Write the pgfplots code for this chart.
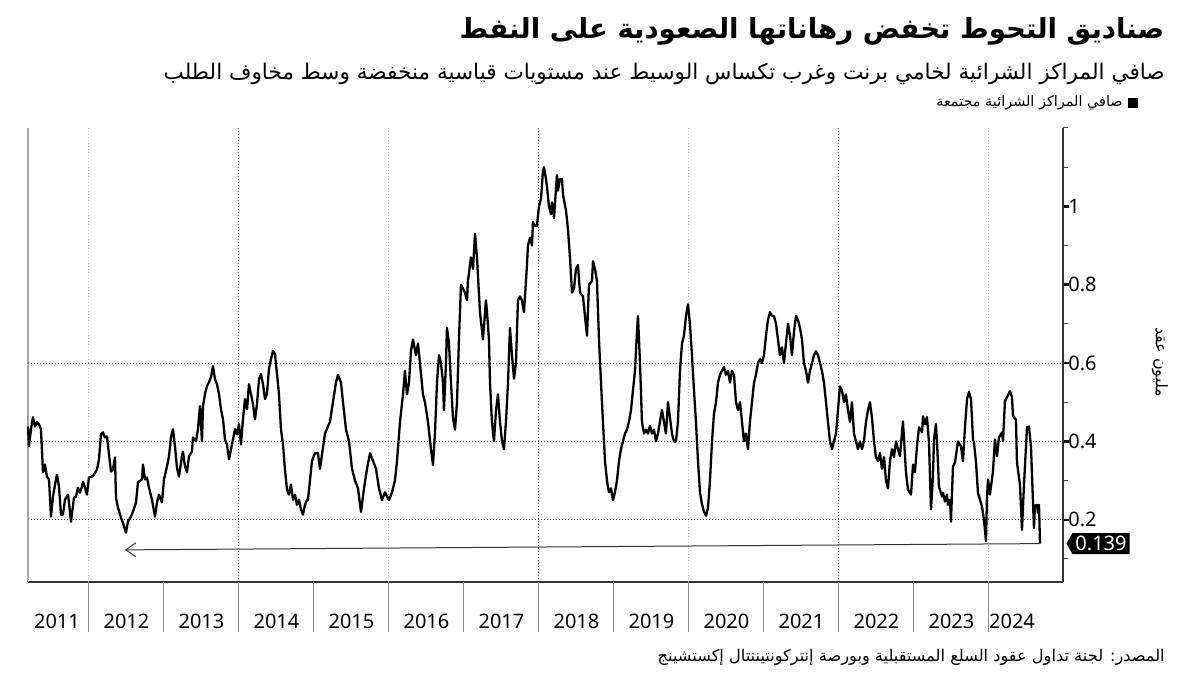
\documentclass[border=0pt]{standalone}
\usepackage{fontspec}
\usepackage{pgfplots}
\pgfplotsset{compat=1.18}
\usetikzlibrary{arrows.meta,shapes.symbols}
\setmainfont{Noto Sans}
\newfontfamily\arabicfont[Script=Arabic]{DejaVu Sans}
\TeXXeTstate=1

\begin{document}
\begin{tikzpicture}[x=1pt,y=1pt]
\useasboundingbox (0,0) rectangle (600,337.5);

% titles
\node[anchor=east, inner sep=0pt] at (582.5,322)
  {\arabicfont\bfseries\fontsize{13.8}{16}\selectfont\beginR صناديق التحوط تخفض رهاناتها الصعودية على النفط\endR};
\node[anchor=east, inner sep=0pt] at (582.5,300.5)
  {\arabicfont\fontsize{10.8}{13}\selectfont\beginR صافي المراكز الشرائية لخامي برنت وغرب تكساس الوسيط عند مستويات قياسية منخفضة وسط مخاوف الطلب\endR};
% legend
\fill[black] (564,283.5) rectangle (569,288.5);
\node[anchor=east, inner sep=0pt] at (561.5,286)
  {\arabicfont\fontsize{7.2}{9}\selectfont\beginR صافي المراكز الشرائية مجتمعة\endR};
% unit label
\node[rotate=-90, inner sep=0pt] at (580,156.5)
  {\arabicfont\fontsize{8}{10}\selectfont\beginR مليون عقد\endR};
% source
\node[anchor=east, inner sep=0pt] at (582.5,9)
  {\arabicfont\fontsize{8.1}{10}\selectfont\beginR المصدر: لجنة تداول عقود السلع المستقبلية وبورصة إنتركونتيننتال إكستشينج\endR};

\begin{axis}[
  at={(14pt,46.5pt)}, anchor=south west,
  scale only axis, width=517.5pt, height=227pt,
  xmin=2011.187, xmax=2024.987, ymin=0.041, ymax=1.2,
  clip=false,
  axis x line*=bottom, axis y line*=right,
  axis line style={black!80, line width=0.6pt},
  tick align=outside,
  major tick length=3pt, minor tick length=2.5pt,
  xtick={2011.573,2012.5,2013.5,2014.5,2015.5,2016.5,2017.5,2018.5,2019.5,2020.5,2021.5,2022.5,2023.5,2024.307},
  xticklabels={2011,2012,2013,2014,2015,2016,2017,2018,2019,2020,2021,2022,2023,2024},
  xtick style={draw=none},
  xticklabel style={font=\fontsize{10}{12}\selectfont, yshift=-9.5pt},
  ytick={0.2,0.4,0.6,0.8,1},
  minor ytick={0.1,0.3,0.5,0.7,0.9,1.1,1.2},
  ytick style={black, line width=1.2pt},
  minor y tick style={black!70, line width=0.5pt},
  yticklabel style={font=\fontsize{10}{12}\selectfont, inner xsep=0.5pt, xshift=-1pt,
    /pgf/number format/assume math mode=true},
]
% grid
\pgfplotsinvokeforeach{2012,2016,2020,2024}{
  \draw[black!25, densely dotted, line width=0.5pt] (axis cs:#1,0.041) -- (axis cs:#1,1.2);
}
\pgfplotsinvokeforeach{2014,2018,2022}{
  \draw[black!75, densely dotted, line width=0.5pt] (axis cs:#1,0.041) -- (axis cs:#1,1.2);
}
\pgfplotsinvokeforeach{0.2,0.4,0.6}{
  \draw[black!75, densely dotted, line width=0.5pt] (axis cs:2011.187,#1) -- (axis cs:2024.987,#1);
}
% year separators below the axis
\pgfplotsinvokeforeach{2012,...,2024}{
  \draw[black!45, line width=0.5pt] (axis cs:#1,0.041) -- ++(0pt,-25pt);
}
\draw[black!35, line width=1pt] (rel axis cs:0,0) -- (rel axis cs:0,1);

% net long positions, million contracts
\addplot[black, line width=1.15pt, line join=round] coordinates {
(2011.187,0.438) (2011.200,0.387) (2011.227,0.431) (2011.253,0.462) (2011.280,0.438) (2011.307,0.449)
(2011.333,0.444) (2011.360,0.431) (2011.387,0.321) (2011.413,0.341) (2011.440,0.310) (2011.467,0.303)
(2011.493,0.208) (2011.520,0.259) (2011.560,0.303) (2011.573,0.315) (2011.600,0.285) (2011.627,0.213)
(2011.653,0.213) (2011.680,0.251) (2011.720,0.264) (2011.733,0.244) (2011.760,0.195) (2011.800,0.256)
(2011.827,0.259) (2011.853,0.282) (2011.880,0.269) (2011.907,0.285) (2011.920,0.297) (2011.947,0.282)
(2011.973,0.264) (2012.000,0.308) (2012.040,0.310) (2012.067,0.315) (2012.107,0.328) (2012.133,0.354)
(2012.160,0.418) (2012.187,0.423) (2012.213,0.410) (2012.240,0.413) (2012.267,0.367) (2012.293,0.323)
(2012.320,0.328) (2012.347,0.359) (2012.360,0.256) (2012.387,0.231) (2012.427,0.205) (2012.453,0.192)
(2012.493,0.167) (2012.520,0.195) (2012.560,0.208) (2012.587,0.221) (2012.627,0.244) (2012.653,0.295)
(2012.707,0.303) (2012.720,0.341) (2012.747,0.303) (2012.773,0.308) (2012.800,0.282) (2012.840,0.251)
(2012.880,0.208) (2012.907,0.244) (2012.933,0.264) (2012.973,0.244) (2013.000,0.303) (2013.040,0.336)
(2013.067,0.362) (2013.093,0.410) (2013.120,0.431) (2013.147,0.387) (2013.173,0.333) (2013.200,0.310)
(2013.240,0.362) (2013.253,0.374) (2013.280,0.336) (2013.307,0.321) (2013.333,0.362) (2013.373,0.374)
(2013.387,0.410) (2013.427,0.400) (2013.453,0.431) (2013.480,0.490) (2013.507,0.400) (2013.520,0.490)
(2013.547,0.521) (2013.573,0.541) (2013.600,0.551) (2013.627,0.564) (2013.653,0.592) (2013.680,0.559)
(2013.707,0.546) (2013.733,0.521) (2013.760,0.482) (2013.787,0.456) (2013.813,0.405) (2013.840,0.392)
(2013.867,0.354) (2013.893,0.379) (2013.920,0.405) (2013.947,0.431) (2013.973,0.418) (2014.000,0.444)
(2014.027,0.392) (2014.053,0.456) (2014.080,0.508) (2014.107,0.482) (2014.133,0.546) (2014.160,0.521)
(2014.187,0.495) (2014.213,0.456) (2014.240,0.495) (2014.267,0.559) (2014.293,0.572) (2014.320,0.546)
(2014.347,0.508) (2014.373,0.521) (2014.400,0.585) (2014.427,0.610) (2014.453,0.631) (2014.480,0.623)
(2014.507,0.572) (2014.533,0.521) (2014.560,0.431) (2014.587,0.392) (2014.613,0.328) (2014.640,0.277)
(2014.667,0.264) (2014.693,0.290) (2014.720,0.251) (2014.747,0.264) (2014.773,0.238) (2014.800,0.251)
(2014.827,0.226) (2014.853,0.213) (2014.880,0.238) (2014.907,0.251)
(2014.920,0.25) (2014.973,0.35) (2015.013,0.37) (2015.053,0.37) (2015.080,0.33) (2015.147,0.42)
(2015.213,0.45) (2015.253,0.50) (2015.293,0.55) (2015.320,0.57) (2015.360,0.55) (2015.387,0.50)
(2015.427,0.43) (2015.467,0.40) (2015.507,0.33) (2015.547,0.30) (2015.587,0.28) (2015.627,0.22)
(2015.667,0.28) (2015.707,0.33) (2015.747,0.37) (2015.787,0.35) (2015.827,0.33) (2015.867,0.28)
(2015.907,0.25) (2015.947,0.27) (2016.000,0.25) (2016.040,0.27) (2016.080,0.30) (2016.107,0.35)
(2016.147,0.45) (2016.187,0.52) (2016.213,0.58) (2016.240,0.52) (2016.267,0.55) (2016.293,0.63)
(2016.320,0.66) (2016.360,0.62) (2016.387,0.65) (2016.413,0.60) (2016.453,0.52) (2016.480,0.50)
(2016.520,0.45) (2016.560,0.38) (2016.587,0.34) (2016.613,0.42) (2016.640,0.55) (2016.667,0.62)
(2016.693,0.60) (2016.720,0.55) (2016.733,0.48) (2016.760,0.60) (2016.773,0.69) (2016.800,0.65)
(2016.827,0.55) (2016.853,0.46) (2016.880,0.43) (2016.907,0.50) (2016.933,0.66) (2016.960,0.80)
(2017.013,0.78) (2017.040,0.76) (2017.053,0.81) (2017.093,0.87) (2017.120,0.84) (2017.147,0.93)
(2017.173,0.87) (2017.213,0.73) (2017.253,0.66) (2017.293,0.76) (2017.307,0.73) (2017.333,0.66)
(2017.347,0.55) (2017.373,0.45) (2017.400,0.40) (2017.427,0.48) (2017.453,0.52) (2017.480,0.45)
(2017.507,0.40) (2017.533,0.38) (2017.560,0.45) (2017.587,0.55) (2017.613,0.69) (2017.640,0.62)
(2017.667,0.56) (2017.693,0.60) (2017.720,0.76) (2017.747,0.77) (2017.773,0.76) (2017.800,0.73)
(2017.840,0.85) (2017.853,0.90) (2017.880,0.92) (2017.907,0.90) (2017.920,0.96) (2017.947,0.95)
(2017.973,0.95) (2018.000,1.00) (2018.027,1.02) (2018.053,1.09) (2018.067,1.10) (2018.093,1.07)
(2018.107,1.05) (2018.133,1.00) (2018.160,0.98) (2018.173,1.01) (2018.187,1.00) (2018.200,0.97)
(2018.240,1.08) (2018.253,1.04) (2018.280,1.07) (2018.307,1.07) (2018.320,1.03) (2018.360,0.99)
(2018.387,0.94) (2018.413,0.87) (2018.440,0.78) (2018.467,0.79) (2018.493,0.84) (2018.520,0.85)
(2018.547,0.78) (2018.587,0.77) (2018.613,0.72) (2018.640,0.67) (2018.667,0.80) (2018.707,0.81)
(2018.720,0.86) (2018.747,0.84) (2018.773,0.81) (2018.800,0.66) (2018.827,0.55) (2018.853,0.45)
(2018.880,0.35) (2018.907,0.30) (2018.933,0.27) (2018.960,0.28) (2018.987,0.25) (2019.013,0.27)
(2019.040,0.30) (2019.067,0.35) (2019.093,0.38) (2019.120,0.40) (2019.147,0.42) (2019.173,0.43)
(2019.200,0.45) (2019.227,0.48) (2019.253,0.53) (2019.280,0.58) (2019.307,0.68) (2019.320,0.72)
(2019.347,0.60) (2019.373,0.45)
(2019.400,0.42) (2019.427,0.43) (2019.453,0.42) (2019.480,0.44) (2019.507,0.42) (2019.533,0.43)
(2019.560,0.40) (2019.587,0.42) (2019.613,0.45) (2019.640,0.48) (2019.667,0.45) (2019.693,0.42)
(2019.720,0.50) (2019.747,0.46) (2019.773,0.42) (2019.800,0.40) (2019.827,0.40) (2019.853,0.45)
(2019.880,0.58) (2019.907,0.65) (2019.933,0.67) (2019.960,0.72) (2019.987,0.75) (2020.013,0.70)
(2020.040,0.62) (2020.067,0.53) (2020.093,0.45) (2020.120,0.35) (2020.147,0.27) (2020.173,0.24)
(2020.200,0.22) (2020.227,0.21) (2020.253,0.23) (2020.280,0.30) (2020.307,0.40) (2020.333,0.47)
(2020.360,0.50) (2020.387,0.55) (2020.413,0.57) (2020.440,0.58) (2020.467,0.59) (2020.493,0.57)
(2020.520,0.58) (2020.547,0.55) (2020.573,0.58) (2020.600,0.57) (2020.627,0.50) (2020.653,0.48)
(2020.680,0.50) (2020.707,0.45) (2020.733,0.40) (2020.760,0.42) (2020.787,0.38) (2020.813,0.45)
(2020.840,0.50) (2020.867,0.55) (2020.893,0.57) (2020.920,0.60) (2020.947,0.61) (2020.973,0.60)
(2021.000,0.62) (2021.027,0.67) (2021.053,0.71) (2021.080,0.73) (2021.107,0.72) (2021.133,0.72)
(2021.160,0.70) (2021.187,0.66) (2021.213,0.62) (2021.240,0.64) (2021.267,0.60) (2021.293,0.65)
(2021.320,0.70) (2021.347,0.67) (2021.373,0.62) (2021.400,0.68) (2021.427,0.72) (2021.453,0.71)
(2021.480,0.69) (2021.507,0.66) (2021.533,0.60) (2021.560,0.58) (2021.587,0.55) (2021.613,0.58)
(2021.640,0.60) (2021.667,0.62) (2021.693,0.63) (2021.720,0.62) (2021.747,0.60) (2021.773,0.58)
(2021.800,0.55) (2021.827,0.50) (2021.853,0.45) (2021.880,0.40) (2021.907,0.38) (2021.933,0.40)
(2021.960,0.42) (2021.987,0.48) (2022.013,0.54) (2022.040,0.53) (2022.067,0.50) (2022.093,0.52)
(2022.120,0.48) (2022.147,0.45) (2022.173,0.50) (2022.200,0.42) (2022.227,0.40) (2022.253,0.38)
(2022.280,0.40) (2022.307,0.38) (2022.333,0.40) (2022.360,0.45) (2022.387,0.48) (2022.413,0.50)
(2022.440,0.46) (2022.467,0.40) (2022.493,0.36) (2022.520,0.35) (2022.547,0.37) (2022.573,0.33)
(2022.600,0.36) (2022.627,0.30) (2022.653,0.28) (2022.680,0.35) (2022.707,0.38) (2022.733,0.36)
(2022.760,0.40) (2022.787,0.38)
(2022.813,0.362) (2022.853,0.451) (2022.893,0.321) (2022.920,0.277) (2022.960,0.264) (2022.987,0.341)
(2023.013,0.321) (2023.040,0.387) (2023.067,0.436) (2023.107,0.423) (2023.120,0.464) (2023.147,0.444)
(2023.173,0.462) (2023.200,0.397) (2023.227,0.226) (2023.253,0.310) (2023.267,0.405) (2023.293,0.444)
(2023.307,0.400) (2023.333,0.285) (2023.373,0.259) (2023.387,0.269) (2023.413,0.246) (2023.440,0.264)
(2023.453,0.238) (2023.480,0.251) (2023.493,0.195) (2023.520,0.336) (2023.547,0.346) (2023.587,0.400)
(2023.627,0.387) (2023.653,0.349) (2023.680,0.436) (2023.707,0.508) (2023.733,0.526) (2023.760,0.508)
(2023.787,0.405) (2023.800,0.397) (2023.827,0.346) (2023.853,0.269) (2023.907,0.233) (2023.933,0.200)
(2023.960,0.146) (2023.973,0.256) (2023.987,0.303) (2024.013,0.264) (2024.053,0.323) (2024.080,0.405)
(2024.107,0.362) (2024.133,0.410) (2024.173,0.423) (2024.187,0.400) (2024.213,0.503) (2024.240,0.513)
(2024.280,0.528) (2024.307,0.513) (2024.320,0.464) (2024.360,0.456) (2024.373,0.346) (2024.413,0.290)
(2024.440,0.174) (2024.467,0.290) (2024.507,0.436) (2024.533,0.438) (2024.560,0.387) (2024.587,0.244)
(2024.600,0.179) (2024.613,0.236) (2024.640,0.238) (2024.653,0.218) (2024.667,0.238) (2024.680,0.139)
};

% arrow back to the 2012 low
\addplot[black!80, line width=0.5pt, -{Straight Barb[length=5pt,width=7pt]}]
  coordinates {(2024.680,0.139) (2012.480,0.123)};

% latest value
\node[signal, signal to=west, signal pointer angle=120, fill=black, text=white,
  inner xsep=1.5pt, inner ysep=1.5pt, anchor=west,
  font=\fontsize{10}{12}\selectfont] at (axis cs:2024.987,0.139) [xshift=1.5pt] {0.139};
\end{axis}
\end{tikzpicture}
\end{document}
